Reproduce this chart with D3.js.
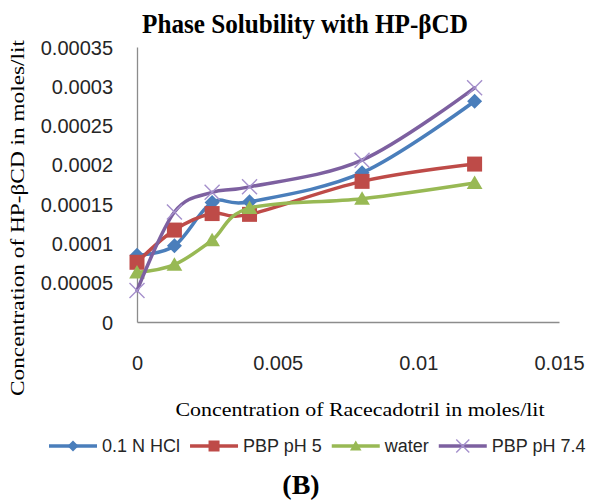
<!DOCTYPE html>
<html lang="en">
<head>
<meta charset="UTF-8">
<title>Phase Solubility with HP-βCD</title>
<script src="https://d3js.org/d3.v7.min.js"></script>
<style>
  body { margin: 0; background: #fff; }
  .tick text { font-family: "Liberation Sans", Arial, sans-serif; font-size: 20px; fill: #262626; }
  .serif { font-family: "Liberation Serif", "Times New Roman", serif; fill: #000; }
  .legend text { font-family: "Liberation Sans", Arial, sans-serif; font-size: 18px; fill: #262626; }
</style>
</head>
<body>
<svg id="chart" width="590" height="501"></svg>
<script>
// concentration of Racecadotril (x) and HP-βCD solubility for each medium
const conc = [0, 0.00133, 0.00267, 0.004, 0.008, 0.012];
const hcl = [0.000085, 0.000097, 0.000152, 0.000153, 0.00019, 0.000281];
const pbp5 = [0.000076, 0.000117, 0.000138, 0.000137, 0.000179, 0.000201];
const water = [0.000063, 0.000073, 0.000104, 0.000145, 0.000157, 0.000177];
const pbp74 = [0.00004, 0.00014, 0.000165, 0.000172, 0.000206, 0.000298];

const seriesNames = ["0.1 N HCl", "PBP pH 5", "water", "PBP pH 7.4"];
const xTicks = [0, 0.005, 0.01, 0.015];
const xTickLabels = ["0", "0.005", "0.01", "0.015"];
const yTicks = [0, 0.00005, 0.0001, 0.00015, 0.0002, 0.00025, 0.0003, 0.00035];
const yTickLabels = ["0", "0.00005", "0.0001", "0.00015", "0.0002", "0.00025", "0.0003", "0.00035"];

const svg = d3.select("#chart");

const x = d3.scaleLinear().domain([0, 0.015]).range([137, 559]);
const y = d3.scaleLinear().domain([0, 0.00035]).range([322, 47]);

// marker shapes like the excel ones
const diamond = { draw(c, s) { const r = Math.sqrt(s) / 2; c.moveTo(0, -r); c.lineTo(r, 0); c.lineTo(0, r); c.lineTo(-r, 0); c.closePath(); } };
const square = { draw(c, s) { const r = Math.sqrt(s) / 2; c.rect(-r, -r, 2 * r, 2 * r); } };
const triangle = { draw(c, s) { const r = Math.sqrt(s) / 2; c.moveTo(0, -r); c.lineTo(r * 1.05, r * 0.8); c.lineTo(-r * 1.05, r * 0.8); c.closePath(); } };
const cross = { draw(c, s) { const r = Math.sqrt(s) / 2; c.moveTo(-r, -r); c.lineTo(r, r); c.moveTo(r, -r); c.lineTo(-r, r); } };

const series = [
  { name: seriesNames[0], values: hcl, color: "#4a7ebb", shape: diamond, size: 15 * 15, fill: true },
  { name: seriesNames[1], values: pbp5, color: "#be4b48", shape: square, size: 15 * 15, fill: true },
  { name: seriesNames[2], values: water, color: "#98b954", shape: triangle, size: 15 * 15, fill: true },
  { name: seriesNames[3], values: pbp74, color: "#7d60a0", shape: cross, size: 15 * 15, fill: false, markColor: "#a590cc" }
];

// axes
const xAxis = svg.append("g")
  .attr("transform", `translate(0,${y(0)})`)
  .call(d3.axisBottom(x).tickValues(xTicks).tickSize(0).tickPadding(34)
    .tickFormat((d, i) => xTickLabels[i]));
const yAxis = svg.append("g")
  .attr("transform", `translate(${x(0)},0)`)
  .call(d3.axisLeft(y).tickValues(yTicks).tickSize(0).tickPadding(24)
    .tickFormat((d, i) => yTickLabels[i]));
svg.selectAll(".domain").attr("stroke", "#8c8c8c").attr("stroke-width", 1.3);
yAxis.selectAll(".tick text").attr("dy", "0.35em");

// lines
const line = d3.line()
  .x((d, i) => x(conc[i]))
  .y(d => y(d))
  .curve(d3.curveCardinal.tension(0));

series.forEach(s => {
  svg.append("path")
    .datum(s.values)
    .attr("d", line)
    .attr("fill", "none")
    .attr("stroke", s.color)
    .attr("stroke-width", 3.5)
    .attr("stroke-linecap", "round");

  svg.selectAll(null)
    .data(s.values)
    .enter()
    .append("path")
    .attr("transform", (d, i) => `translate(${x(conc[i])},${y(d)})`)
    .attr("d", d3.symbol().type(s.shape).size(s.size))
    .attr("fill", s.fill ? s.color : "none")
    .attr("stroke", s.fill ? "none" : s.markColor)
    .attr("stroke-width", 1.4);
});

// titles
svg.append("text")
  .attr("class", "serif")
  .attr("x", 305).attr("y", 33)
  .attr("text-anchor", "middle")
  .attr("font-size", 28).attr("font-weight", "bold")
  .attr("textLength", 326).attr("lengthAdjust", "spacingAndGlyphs")
  .text("Phase Solubility with HP-βCD");

svg.append("text")
  .attr("class", "serif")
  .attr("transform", "translate(24,218) rotate(-90)")
  .attr("text-anchor", "middle")
  .attr("font-size", 19)
  .attr("textLength", 356).attr("lengthAdjust", "spacingAndGlyphs")
  .text("Concentration of HP-βCD in moles/lit");

svg.append("text")
  .attr("class", "serif")
  .attr("x", 360).attr("y", 416)
  .attr("text-anchor", "middle")
  .attr("font-size", 19)
  .attr("textLength", 369).attr("lengthAdjust", "spacingAndGlyphs")
  .text("Concentration of Racecadotril in moles/lit");

// legend
const legend = svg.append("g").attr("class", "legend");
let lx = 49;
const ly = 446;
series.forEach(s => {
  legend.append("line")
    .attr("x1", lx).attr("x2", lx + 48)
    .attr("y1", ly).attr("y2", ly)
    .attr("stroke", s.color).attr("stroke-width", 3.5);
  legend.append("path")
    .attr("transform", `translate(${lx + 24},${ly})`)
    .attr("d", d3.symbol().type(s.shape).size(s.fill ? 11 * 11 : 13 * 13))
    .attr("fill", s.fill ? s.color : "none")
    .attr("stroke", s.fill ? "none" : s.markColor)
    .attr("stroke-width", 1.4);
  const t = legend.append("text")
    .attr("x", lx + 53).attr("y", ly)
    .attr("dy", "0.35em")
    .text(s.name);
  lx += 53 + t.node().getComputedTextLength() + 10;
});

svg.append("text")
  .attr("class", "serif")
  .attr("x", 301).attr("y", 494)
  .attr("text-anchor", "middle")
  .attr("font-size", 28).attr("font-weight", "bold")
  .text("(B)");
</script>
</body>
</html>
